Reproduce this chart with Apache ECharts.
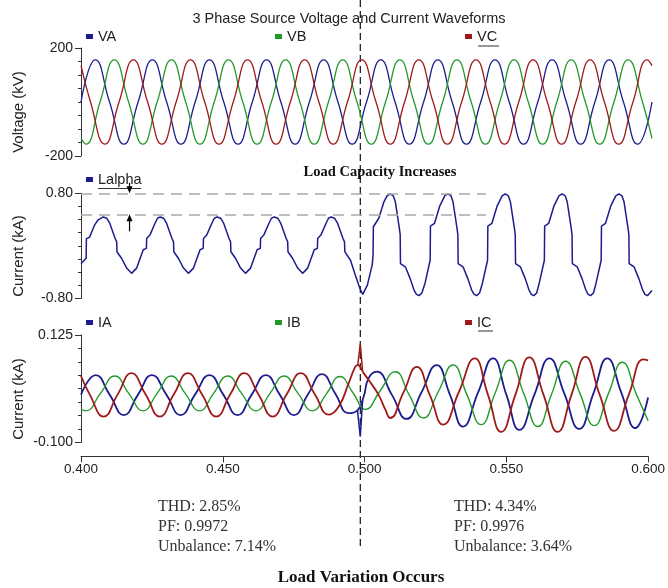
<!DOCTYPE html>
<html>
<head>
<meta charset="utf-8">
<script src="https://cdn.jsdelivr.net/npm/echarts@6/dist/echarts.min.js"></script>
<style>
html,body{margin:0;padding:0;background:#fff;}
#chart{width:668px;height:588px;}
</style>
</head>
<body>
<div id="chart"></div>
<script>
// ---------------- data ----------------
const xTicks = [0.400, 0.450, 0.500, 0.550, 0.600];
const xTickLabels = ['0.400', '0.450', '0.500', '0.550', '0.600'];
const eventTime = 0.4985;

const vTicks = [-200, -150, -100, -50, 0, 50, 100, 150, 200];
const vLabelValues = [-200, 200];
const vLabelTexts = ['-200', '200'];

const iTicks = [-0.8, -0.6, -0.4, -0.2, 0, 0.2, 0.4, 0.6, 0.8];
const iLabelValues = [-0.8, 0.8];
const iLabelTexts = ['-0.80', '0.80'];

const sTicks = [-0.1, -0.071875, -0.04375, -0.015625, 0.0125, 0.040625, 0.06875, 0.096875, 0.125];
const sLabelValues = [-0.1, 0.125];
const sLabelTexts = ['-0.100', '0.125'];

// source voltages (kV): zero crossings and peaks
const VA = [[0.400,0],[0.405,156],[0.410,0],[0.415,-156],[0.420,0],[0.425,156],[0.430,0],[0.435,-156],[0.440,0],[0.445,156],[0.450,0],[0.455,-156],[0.460,0],[0.465,156],[0.470,0],[0.475,-156],[0.480,0],[0.485,156],[0.490,0],[0.495,-156],[0.500,0],[0.505,156],[0.510,0],[0.515,-156],[0.520,0],[0.525,156],[0.530,0],[0.535,-156],[0.540,0],[0.545,156],[0.550,0],[0.555,-156],[0.560,0],[0.565,156],[0.570,0],[0.575,-156],[0.580,0],[0.585,156],[0.590,0],[0.595,-156],[0.600,0]];
const VB = [[0.4,-135],[0.40167,-156],[0.40667,0],[0.41167,156],[0.41667,0],[0.42167,-156],[0.42667,0],[0.43167,156],[0.43667,0],[0.44167,-156],[0.44667,0],[0.45167,156],[0.45667,0],[0.46167,-156],[0.46667,0],[0.47167,156],[0.47667,0],[0.48167,-156],[0.48667,0],[0.49167,156],[0.49667,0],[0.50167,-156],[0.50667,0],[0.51167,156],[0.51667,0],[0.52167,-156],[0.52667,0],[0.53167,156],[0.53667,0],[0.54167,-156],[0.54667,0],[0.55167,156],[0.55667,0],[0.56167,-156],[0.56667,0],[0.57167,156],[0.57667,0],[0.58167,-156],[0.58667,0],[0.59167,156],[0.59667,0],[0.6,-135]];
const VC = [[0.4,135],[0.40333,0],[0.40833,-156],[0.41333,0],[0.41833,156],[0.42333,0],[0.42833,-156],[0.43333,0],[0.43833,156],[0.44333,0],[0.44833,-156],[0.45333,0],[0.45833,156],[0.46333,0],[0.46833,-156],[0.47333,0],[0.47833,156],[0.48333,0],[0.48833,-156],[0.49333,0],[0.49833,156],[0.50333,0],[0.50833,-156],[0.51333,0],[0.51833,156],[0.52333,0],[0.52833,-156],[0.53333,0],[0.53833,156],[0.54333,0],[0.54833,-156],[0.55333,0],[0.55833,156],[0.56333,0],[0.56833,-156],[0.57333,0],[0.57833,156],[0.58333,0],[0.58833,-156],[0.59333,0],[0.59833,156],[0.6,135]];

// load current (kA)
const Lalpha = [
[0.4000,-0.27],[0.4018,-0.19],[0.4019,0.11],[0.4030,0.13],[0.4048,0.32],[0.4059,0.39],[0.4078,0.44],
[0.4090,0.42],[0.4101,0.34],[0.4119,0.12],[0.4125,0.06],[0.4126,-0.09],[0.4142,-0.19],[0.4160,-0.34],[0.4177,-0.42],[0.4195,-0.34],[0.4218,-0.06],[0.4229,-0.04],[0.4230,0.11],[0.4242,0.17],[0.4259,0.34],[0.4268,0.42],
[0.4277,0.44],[0.4289,0.42],[0.4300,0.34],[0.4318,0.12],[0.4324,0.06],[0.4325,-0.09],[0.4341,-0.19],[0.4359,-0.34],[0.4376,-0.42],[0.4394,-0.34],[0.4417,-0.06],[0.4428,-0.04],[0.4429,0.11],[0.4441,0.17],[0.4458,0.34],[0.4467,0.42],
[0.4477,0.44],[0.4489,0.42],[0.4500,0.34],[0.4518,0.12],[0.4524,0.06],[0.4525,-0.09],[0.4541,-0.19],[0.4559,-0.34],[0.4576,-0.42],[0.4594,-0.34],[0.4617,-0.06],[0.4628,-0.04],[0.4629,0.11],[0.4641,0.17],[0.4658,0.34],[0.4667,0.42],
[0.4677,0.44],[0.4689,0.42],[0.4700,0.34],[0.4718,0.12],[0.4724,0.06],[0.4725,-0.09],[0.4741,-0.19],[0.4759,-0.34],[0.4776,-0.42],[0.4794,-0.34],[0.4817,-0.06],[0.4828,-0.04],[0.4829,0.11],[0.4841,0.17],[0.4858,0.34],[0.4867,0.42],
[0.4876,0.44],[0.4888,0.42],[0.4899,0.34],[0.4917,0.12],[0.4923,0.06],[0.4924,-0.09],[0.4944,-0.22],[0.4961,-0.45],[0.4977,-0.65],[0.4987,-0.74],[0.5003,-0.60],[0.5020,-0.29],[0.5023,-0.14],[0.5024,0.29],[0.5043,0.42],[0.5061,0.67],[0.5072,0.76],
[0.5083,0.79],[0.5094,0.76],[0.5101,0.67],[0.5115,0.27],[0.5118,0.17],[0.5119,-0.27],[0.5136,-0.32],[0.5153,-0.50],[0.5166,-0.67],[0.5175,-0.74],[0.5184,-0.76],
[0.5194,-0.72],[0.5205,-0.57],[0.5223,-0.22],[0.5224,0.30],[0.5238,0.34],[0.5256,0.60],[0.5274,0.76],[0.5285,0.79],
[0.5296,0.76],[0.5303,0.67],[0.5317,0.27],[0.5320,0.17],[0.5321,-0.27],[0.5338,-0.32],[0.5355,-0.50],[0.5368,-0.67],[0.5377,-0.74],[0.5386,-0.76],
[0.5396,-0.72],[0.5406,-0.57],[0.5424,-0.22],[0.5425,0.30],[0.5439,0.34],[0.5457,0.60],[0.5475,0.76],[0.5486,0.79],
[0.5497,0.76],[0.5504,0.67],[0.5518,0.27],[0.5521,0.17],[0.5522,-0.27],[0.5539,-0.32],[0.5556,-0.50],[0.5569,-0.67],[0.5577,-0.74],[0.5586,-0.76],
[0.5596,-0.72],[0.5605,-0.57],[0.5623,-0.22],[0.5624,0.30],[0.5638,0.34],[0.5656,0.60],[0.5674,0.76],[0.5685,0.79],
[0.5696,0.76],[0.5703,0.67],[0.5717,0.27],[0.5720,0.17],[0.5721,-0.27],[0.5738,-0.32],[0.5755,-0.50],[0.5768,-0.67],[0.5776,-0.74],[0.5785,-0.76],
[0.5795,-0.72],[0.5804,-0.57],[0.5822,-0.22],[0.5823,0.30],[0.5837,0.34],[0.5855,0.60],[0.5873,0.76],[0.5884,0.79],
[0.5895,0.76],[0.5902,0.67],[0.5916,0.27],[0.5919,0.17],[0.5920,-0.27],[0.5937,-0.32],[0.5954,-0.50],[0.5967,-0.67],[0.5975,-0.74],[0.5984,-0.76],
[0.6000,-0.68]
];
const refLevels = [0.80, 0.48];
const refEnd = 0.5418;
const arrowTime = 0.417;
const arrowDown = [0.96, 0.80];
const arrowUp = [0.22, 0.48];

// source currents (kA)
const IA = [[0.4000,0.000],[0.4052,0.041],[0.4101,0.000],[0.4151,-0.043],[0.4201,0.000],[0.4250,0.041],[0.4301,0.000],[0.4351,-0.043],[0.4402,0.000],[0.4453,0.041],[0.4502,0.000],[0.4552,-0.043],[0.4602,0.000],[0.4652,0.041],[0.4701,0.000],[0.4751,-0.043],[0.4800,0.000],[0.4850,0.043],[0.4897,0.002],[0.4944,-0.039],[0.4975,-0.033],[0.4997,-0.004],[0.5014,0.034],[0.5043,0.048],[0.5096,0.000],[0.5148,-0.051],[0.5201,0.005],[0.5254,0.062],[0.5301,0.000],[0.5347,-0.067],[0.5400,0.004],[0.5453,0.076],[0.5500,0.000],[0.5546,-0.074],[0.5599,0.000],[0.5652,0.076],[0.5704,0.003],[0.5757,-0.072],[0.5807,0.002],[0.5856,0.076],[0.5906,0.003],[0.5955,-0.070],[0.6000,-0.006]];
const IB = [[0.4000,-0.031],[0.4017,-0.034],[0.4068,0.002],[0.4119,0.039],[0.4169,0.002],[0.4219,-0.034],[0.4268,0.002],[0.4318,0.039],[0.4368,0.002],[0.4418,-0.034],[0.4467,0.002],[0.4517,0.039],[0.4567,0.002],[0.4617,-0.034],[0.4666,0.002],[0.4716,0.039],[0.4766,0.002],[0.4816,-0.034],[0.4866,0.002],[0.4913,0.038],[0.4959,0.004],[0.5003,-0.031],[0.5055,0.008],[0.5108,0.048],[0.5157,0.000],[0.5207,-0.049],[0.5260,0.006],[0.5312,0.062],[0.5361,0.000],[0.5411,-0.063],[0.5461,0.004],[0.5511,0.072],[0.5561,0.003],[0.5611,-0.067],[0.5660,0.002],[0.5709,0.070],[0.5760,0.002],[0.5810,-0.065],[0.5860,0.002],[0.5909,0.068],[0.5959,0.000],[0.6000,-0.055]];
const IC = [[0.4000,0.039],[0.4031,0.000],[0.4080,-0.046],[0.4129,0.000],[0.4178,0.045],[0.4228,0.000],[0.4278,-0.046],[0.4327,0.000],[0.4377,0.045],[0.4427,0.000],[0.4477,-0.046],[0.4526,0.000],[0.4576,0.045],[0.4626,0.000],[0.4676,-0.046],[0.4725,0.000],[0.4775,0.045],[0.4825,0.000],[0.4874,-0.042],[0.4909,-0.025],[0.4944,0.024],[0.4967,0.058],[0.4976,0.062],[0.4997,0.045],[0.5014,0.031],[0.5049,0.000],[0.5073,-0.031],[0.5090,-0.049],[0.5137,0.004],[0.5184,0.058],[0.5231,-0.002],[0.5277,-0.063],[0.5333,0.006],[0.5388,0.076],[0.5435,0.000],[0.5482,-0.078],[0.5532,0.000],[0.5581,0.078],[0.5631,0.000],[0.5681,-0.078],[0.5730,0.000],[0.5779,0.079],[0.5829,0.000],[0.5880,-0.076],[0.5932,0.000],[0.5984,0.074],[0.6000,0.072]];
const IAspike = [[0.4975,-0.033],[0.4985,-0.088],[0.4993,-0.012]];
const ICspike = [[0.4976,0.062],[0.4985,0.107],[0.4993,0.050]];

const statsLeft = ['THD: 2.85%', 'PF: 0.9972', 'Unbalance: 7.14%'];
const statsRight = ['THD: 4.34%', 'PF: 0.9976', 'Unbalance: 3.64%'];

// ---------------- styling ----------------
const BLUE = '#1c1c8e', GREEN = '#22992a', RED = '#9e1a1a';
const SANS = 'Liberation Sans, Arial, sans-serif';
const SERIF = 'Liberation Serif, Times New Roman, serif';

const chart = echarts.init(document.getElementById('chart'), null, {renderer: 'canvas'});

function xAx(gridIndex, show) {
  return {
    type: 'value', gridIndex, min: 0.4, max: 0.6, interval: 0.05, show,
    offset: show ? 14 : 0,
    axisLine: {show: true, onZero: false, lineStyle: {color: '#333', width: 1}},
    axisTick: {show: true, length: 6, inside: false, lineStyle: {color: '#333'}},
    axisLabel: {show: true, margin: 6, fontSize: 13.5, color: '#222', fontFamily: SANS,
      formatter: v => { const i = xTicks.findIndex(t => Math.abs(t - v) < 1e-9); return i >= 0 ? xTickLabels[i] : ''; }},
    splitLine: {show: false}
  };
}
function yData(gridIndex, min, max, labVals, labTexts) {
  return {
    type: 'value', gridIndex, min, max, position: 'left', offset: 0,
    axisLine: {show: true, onZero: false, lineStyle: {color: '#333', width: 1}},
    axisTick: {show: true, length: 6, customValues: labVals, lineStyle: {color: '#333'}},
    axisLabel: {show: true, margin: 8, fontSize: 14, color: '#222', fontFamily: SANS, customValues: labVals,
      formatter: v => { const i = labVals.findIndex(t => Math.abs(t - v) < 1e-9); return i >= 0 ? labTexts[i] : ''; }},
    splitLine: {show: false}
  };
}
function yTicks(gridIndex, min, max, ticks) {
  return {
    type: 'value', gridIndex, min, max, position: 'left', offset: 0,
    axisLine: {show: false, onZero: false},
    axisTick: {show: true, length: 3, customValues: ticks, lineStyle: {color: '#333'}},
    axisLabel: {show: false},
    splitLine: {show: false}
  };
}
function line(name, data, color, xi, yi, extra) {
  return Object.assign({
    type: 'line', name, data, xAxisIndex: xi, yAxisIndex: yi,
    showSymbol: false, symbol: 'none', smooth: 0.5, animation: false,
    lineStyle: {color, width: 1.3}, itemStyle: {color}
  }, extra || {});
}
const legendBase = {
  orient: 'horizontal', padding: 0, itemWidth: 7, itemHeight: 5, icon: 'rect', selectedMode: false,
  textStyle: {fontSize: 14.5, color: '#222', fontFamily: SANS}
};
const refStyle = {color: '#a9a9a9', type: [11, 7], width: 1.5};

const option = {
  animation: false,
  backgroundColor: '#fff',
  title: {
    text: '3 Phase Source Voltage and Current Waveforms', left: 344, top: 6, textAlign: 'center',
    textStyle: {fontSize: 14.5, fontWeight: 'normal', color: '#222', fontFamily: SANS}
  },
  legend: [
    Object.assign({}, legendBase, {data: ['VA'], left: 86, top: 29}),
    Object.assign({}, legendBase, {data: ['VB'], left: 275, top: 29}),
    Object.assign({}, legendBase, {data: ['VC'], left: 465, top: 29}),
    Object.assign({}, legendBase, {data: ['Lalpha'], left: 86, top: 172}),
    Object.assign({}, legendBase, {data: ['IA'], left: 86, top: 315}),
    Object.assign({}, legendBase, {data: ['IB'], left: 275, top: 315}),
    Object.assign({}, legendBase, {data: ['IC'], left: 465, top: 315})
  ],
  grid: [
    {left: 81, top: 48, width: 571, height: 108},
    {left: 81, top: 193.3, width: 571, height: 105},
    {left: 81, top: 335, width: 571, height: 107.3}
  ],
  xAxis: [xAx(0, false), xAx(1, false), xAx(2, true)],
  yAxis: [
    yData(0, -200, 200, vLabelValues, vLabelTexts), yTicks(0, -200, 200, vTicks),
    yData(1, -0.8, 0.8, iLabelValues, iLabelTexts), yTicks(1, -0.8, 0.8, iTicks),
    yData(2, -0.1, 0.125, sLabelValues, sLabelTexts), yTicks(2, -0.1, 0.125, sTicks)
  ],
  series: [
    line('VA', VA, BLUE, 0, 0),
    line('VB', VB, GREEN, 0, 0),
    line('VC', VC, RED, 0, 0),
    line('Lalpha', Lalpha, BLUE, 1, 2, {
      smooth: false, lineStyle: {color: BLUE, width: 1.5},
      markLine: {
        silent: true, animation: false, symbol: 'none',
        label: {show: false},
        data: [
          [{coord: [0.4, refLevels[0]], lineStyle: refStyle}, {coord: [refEnd, refLevels[0]]}],
          [{coord: [0.4, refLevels[1]], lineStyle: refStyle}, {coord: [refEnd, refLevels[1]]}]
        ]
      }
    }),
    line('IA', IA, BLUE, 2, 4, {lineStyle: {color: BLUE, width: 1.8}}),
    line('IB', IB, GREEN, 2, 4, {lineStyle: {color: GREEN, width: 1.4}}),
    line('IC', IC, RED, 2, 4, {lineStyle: {color: RED, width: 1.8}}),
    line('IA spike', IAspike, BLUE, 2, 4, {smooth: false, lineStyle: {color: BLUE, width: 1.5}}),
    line('IC spike', ICspike, RED, 2, 4, {smooth: false, lineStyle: {color: RED, width: 1.5}})
  ]
};
chart.setOption(option);

const ex = chart.convertToPixel({xAxisIndex: 2}, eventTime);
function arrow(fromV, toV) {
  const p0 = chart.convertToPixel({xAxisIndex: 1, yAxisIndex: 2}, [arrowTime, fromV]);
  const p1 = chart.convertToPixel({xAxisIndex: 1, yAxisIndex: 2}, [arrowTime, toV]);
  const dir = p1[1] > p0[1] ? 1 : -1;
  return [
    {type: 'line', silent: true, shape: {x1: p0[0], y1: p0[1], x2: p1[0], y2: p1[1] - dir * 5}, style: {stroke: '#000', lineWidth: 1.2}},
    {type: 'polygon', silent: true, shape: {points: [[p1[0], p1[1]], [p1[0] - 3, p1[1] - dir * 7], [p1[0] + 3, p1[1] - dir * 7]]}, style: {fill: '#000'}}
  ];
}
const graphics = [
  {type: 'line', silent: true, shape: {x1: ex, y1: 0, x2: ex, y2: 547}, style: {stroke: '#111', lineWidth: 1.2, lineDash: [7, 4]}},
  // axis names
  {type: 'text', x: 19, y: 112, rotation: Math.PI / 2, silent: true, style: {text: 'Voltage (kV)', font: '15px ' + SANS, fill: '#222', textAlign: 'center', textVerticalAlign: 'middle'}},
  {type: 'text', x: 19, y: 256, rotation: Math.PI / 2, silent: true, style: {text: 'Current (kA)', font: '15px ' + SANS, fill: '#222', textAlign: 'center', textVerticalAlign: 'middle'}},
  {type: 'text', x: 19, y: 399, rotation: Math.PI / 2, silent: true, style: {text: 'Current (kA)', font: '15px ' + SANS, fill: '#222', textAlign: 'center', textVerticalAlign: 'middle'}},
  // underlines of legend labels
  {type: 'line', silent: true, shape: {x1: 478, y1: 46, x2: 499, y2: 46}, style: {stroke: '#333', lineWidth: 1}},
  {type: 'line', silent: true, shape: {x1: 98, y1: 188.5, x2: 141, y2: 188.5}, style: {stroke: '#333', lineWidth: 1}},
  {type: 'line', silent: true, shape: {x1: 478, y1: 331, x2: 493, y2: 331}, style: {stroke: '#333', lineWidth: 1}},
  // annotations
  {type: 'text', x: 380, y: 172, silent: true, style: {text: 'Load Capacity Increases', font: 'bold 14.5px ' + SERIF, fill: '#111', textAlign: 'center', textVerticalAlign: 'middle'}},
  {type: 'text', x: 361, y: 578, silent: true, style: {text: 'Load Variation Occurs', font: 'bold 17px ' + SERIF, fill: '#111', textAlign: 'center', textVerticalAlign: 'middle'}}
].concat(arrow(arrowDown[0], arrowDown[1]), arrow(arrowUp[0], arrowUp[1]));
statsLeft.forEach((s, i) => graphics.push({type: 'text', x: 158, y: 507 + i * 20, silent: true,
  style: {text: s, font: '16px ' + SERIF, fill: '#333', textAlign: 'left', textVerticalAlign: 'middle'}}));
statsRight.forEach((s, i) => graphics.push({type: 'text', x: 454, y: 507 + i * 20, silent: true,
  style: {text: s, font: '16px ' + SERIF, fill: '#333', textAlign: 'left', textVerticalAlign: 'middle'}}));
chart.setOption({graphic: {elements: graphics}});
</script>
</body>
</html>
